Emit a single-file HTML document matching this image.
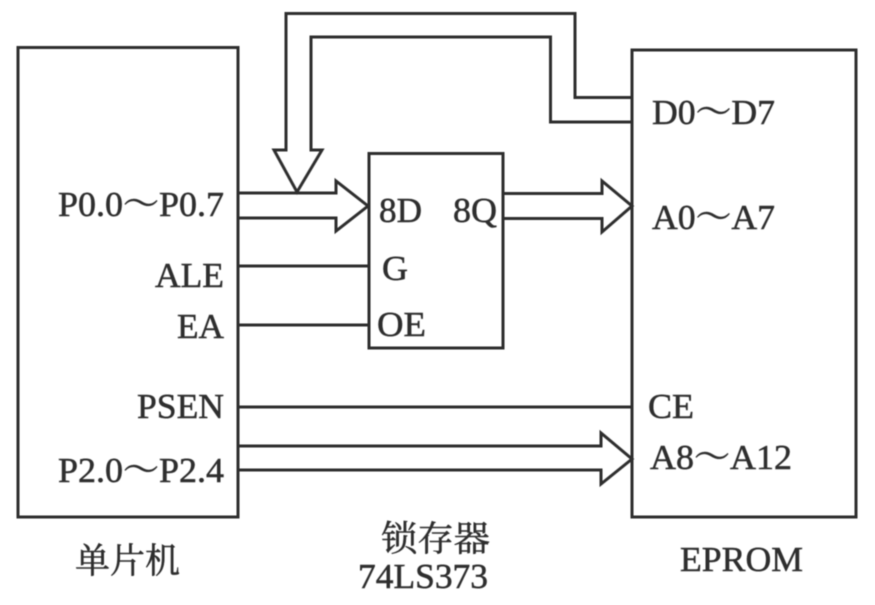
<!DOCTYPE html>
<html>
<head>
<meta charset="utf-8">
<style>
html,body{margin:0;padding:0;background:#fff;width:875px;height:605px;overflow:hidden}
svg{display:block}
text{font-family:"Liberation Serif","Noto Serif CJK SC",serif;font-size:35px;fill:#2e2e2e;stroke:#2e2e2e;stroke-width:0.5px}
</style>
</head>
<body>
<svg width="875" height="605" viewBox="0 0 875 605" xmlns="http://www.w3.org/2000/svg">
<defs><filter id="soft" filterUnits="userSpaceOnUse" x="0" y="0" width="875" height="605"><feGaussianBlur stdDeviation="0.45"/></filter></defs>
<g filter="url(#soft)">
<g fill="none" stroke="#2e2e2e" stroke-width="3" stroke-linejoin="miter">
<rect x="18" y="47.5" width="220" height="469.5"/>
<rect x="369" y="153.5" width="134" height="194.5"/>
<rect x="632" y="50" width="224" height="467"/>
<path d="M632 97.5H575V13.5H286V150H274L297 192L322 150H311V37H550.5V122H632"/>
<path d="M238 193H336V181L368 206L336 231V218H238"/>
<path d="M503 193.5H602V181L632 206L602 232V218.500H503"/>
<path d="M238 266H369M238 325H369M238 407H632"/>
<path d="M238 446H601V433L632 459L601 484V470H238"/>
</g>
<text x="58" y="216" textLength="166" lengthAdjust="spacingAndGlyphs">P0.0～P0.7</text>
<text x="155" y="287" textLength="69" lengthAdjust="spacingAndGlyphs">ALE</text>
<text x="177" y="338" textLength="47" lengthAdjust="spacingAndGlyphs">EA</text>
<text x="137" y="418" textLength="87" lengthAdjust="spacingAndGlyphs">PSEN</text>
<text x="58" y="482" textLength="166" lengthAdjust="spacingAndGlyphs">P2.0～P2.4</text>
<text x="379" y="222" textLength="43" lengthAdjust="spacingAndGlyphs">8D</text>
<text x="453" y="222" textLength="44" lengthAdjust="spacingAndGlyphs">8Q</text>
<text x="382" y="280" textLength="26" lengthAdjust="spacingAndGlyphs">G</text>
<text x="377" y="336" textLength="49" lengthAdjust="spacingAndGlyphs">OE</text>
<text x="652" y="124" textLength="123" lengthAdjust="spacingAndGlyphs">D0～D7</text>
<text x="652" y="229" textLength="123" lengthAdjust="spacingAndGlyphs">A0～A7</text>
<text x="648" y="418" textLength="46" lengthAdjust="spacingAndGlyphs">CE</text>
<text x="650" y="469" textLength="142" lengthAdjust="spacingAndGlyphs">A8～A12</text>
<text x="75" y="573" textLength="105" lengthAdjust="spacingAndGlyphs">单片机</text>
<text x="381" y="551" textLength="109" lengthAdjust="spacingAndGlyphs">锁存器</text>
<text x="358" y="588" textLength="130" lengthAdjust="spacingAndGlyphs">74LS373</text>
<text x="680" y="571" textLength="123" lengthAdjust="spacingAndGlyphs">EPROM</text>
</g>
</svg>
</body>
</html>
